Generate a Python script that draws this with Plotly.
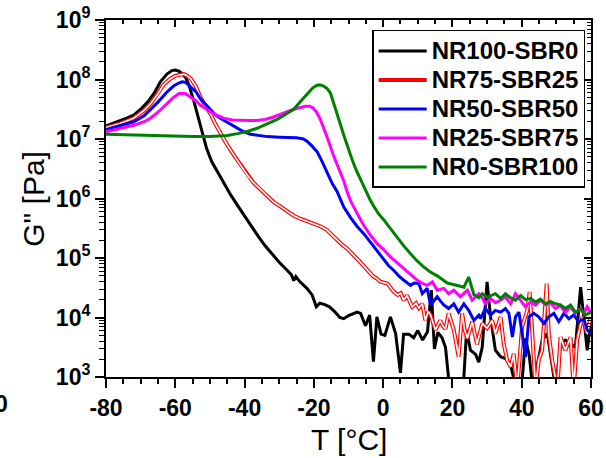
import plotly.graph_objects as go

# ---------------- data ----------------
series_names = ["NR100-SBR0", "NR75-SBR25", "NR50-SBR50", "NR25-SBR75", "NR0-SBR100"]
series_colors = ["#000000", "#ff0000", "#0000ff", "#ff00ff", "#008000"]

x_tickvals = [-80, -60, -40, -20, 0, 20, 40, 60]
x_ticktext = ["-80", "-60", "-40", "-20", "0", "20", "40", "60"]
y_tickvals = [1e3, 1e4, 1e5, 1e6, 1e7, 1e8, 1e9]
y_ticktext = ["10<sup>3</sup>", "10<sup>4</sup>", "10<sup>5</sup>", "10<sup>6</sup>",
              "10<sup>7</sup>", "10<sup>8</sup>", "10<sup>9</sup>"]

# temperatures (deg C) and log10(G'' / Pa)
t_nr100 = [-80, -77, -74, -72, -70, -68, -66, -64.3, -62.4, -61, -60, -59, -58, -57, -56, -54.7,
           -53.5, -52.5, -51, -49.5, -48, -46, -44, -42, -40, -38, -36, -34, -32, -30, -28, -26.5,
           -25.8, -25.2, -24, -22, -20.5, -19.3, -18.3, -17, -15.5, -14, -12.5, -11.4, -10, -8.5,
           -7.5, -6.5, -5.1, -3.9, -2.8, -1.8, -0.6, 0.5, 2.1, 3.6, 5.0, 5.9, 7.4, 8.8, 10.0, 11.4,
           12.8, 13.9, 14.8, 15.8, 17.0, 18.0, 19.2, 20.5, 22, 23.1, 24.1, 25.2, 26.7, 27.6, 28.6,
           30.0, 31.0, 32.4, 33.9, 35.3, 36.8, 38.0, 39.2, 40.2, 41.1, 42.2, 43.2, 44.5, 45.9, 47.4,
           48.8, 49.8, 51.2, 52.6, 54.1, 55.5, 57.0, 57.9, 58.9, 59.9]
lg_nr100 = [7.22, 7.28, 7.35, 7.40, 7.50, 7.62, 7.78, 7.96, 8.09, 8.15, 8.16, 8.14, 8.10, 8.03, 7.90,
            7.65, 7.38, 7.15, 6.85, 6.62, 6.46, 6.25, 6.06, 5.88, 5.70, 5.52, 5.36, 5.20, 5.06, 4.93,
            4.81, 4.72, 4.62, 4.69, 4.60, 4.49, 4.38, 4.18, 4.24, 4.22, 4.18, 4.10, 4.00, 3.98, 4.03,
            4.07, 4.09, 4.07, 3.86, 4.04, 3.26, 4.01, 3.72, 3.70, 4.01, 3.73, 3.07, 3.72, 3.72, 3.66,
            3.78, 3.62, 3.76, 4.46, 3.47, 3.75, 3.66, 3.50, 2.8, 2.6, 2.7, 2.8, 3.79, 3.45, 3.38,
            3.25, 3.50, 4.60, 4.01, 3.45, 3.34, 3.31, 3.20, 2.9, 2.7, 3.0, 3.65, 3.35, 2.8, 3.2,
            3.62, 3.73, 3.17, 2.8, 3.56, 3.62, 3.56, 3.50, 4.51, 4.01, 3.45, 3.90]

t_nr75 = [-80, -76, -72, -69, -67, -65, -63.4, -61.5, -60, -58.6, -57.5, -56.5, -55.5, -54, -52.8,
          -51.3, -49.9, -48.5, -47, -45, -43, -41, -39.3, -37.5, -35.4, -33.5, -31.6, -29.5, -27.7,
          -25.8, -23.9, -22, -20, -18, -16.2, -14.8, -13.3, -11.8, -10.4, -8.5, -6.6, -4.6, -3.0,
          -1.7, -0.8, 1.2, 2.2, 3.1, 4.2, 5.1, 5.9, 6.9, 7.8, 8.4, 9.5, 10.3, 11.3, 12.2, 13.0,
          13.7, 15.1, 16.5, 17.2, 18.0, 18.9, 20.4, 21.8, 22.8, 23.5, 24.3, 25.7, 27.1, 27.6, 28.6,
          30.0, 31.5, 32.4, 33.9, 34.8, 35.8, 36.8, 37.7, 38.7, 40.1, 41.6, 42.3, 43.0, 44.0, 44.9,
          45.9, 47.2, 47.8, 48.8, 50.3, 51.2, 52.6, 54.1, 55.0, 56.0, 57.5, 58.9, 59.9]
lg_nr75 = [7.19, 7.26, 7.35, 7.48, 7.60, 7.76, 7.91, 8.01, 8.06, 8.08, 8.09, 8.06, 8.01, 7.88, 7.71,
           7.55, 7.43, 7.26, 7.10, 6.90, 6.72, 6.55, 6.40, 6.27, 6.15, 6.04, 5.94, 5.86, 5.78, 5.71,
           5.66, 5.62, 5.58, 5.53, 5.47, 5.39, 5.30, 5.22, 5.16, 5.05, 4.93, 4.80, 4.70, 4.65, 4.60,
           4.57, 4.49, 4.43, 4.38, 4.41, 4.29, 4.37, 4.25, 4.18, 4.24, 4.16, 4.23, 3.95, 4.10, 4.04,
           3.79, 3.95, 3.86, 3.81, 4.07, 3.79, 3.34, 4.07, 3.80, 3.65, 3.93, 3.55, 3.67, 3.90, 3.82,
           3.95, 3.73, 4.01, 3.56, 3.28, 3.17, 3.39, 2.8, 3.84, 4.12, 4.43, 3.79, 2.8, 3.28, 3.45,
           4.57, 3.73, 3.28, 2.8, 3.67, 3.45, 3.67, 2.8, 3.62, 4.01, 3.73, 4.01]

t_nr50 = [-80, -76, -72, -69, -67.2, -65, -62.4, -60.5, -59, -58, -57, -55.6, -54, -52.8, -51.3,
          -49.9, -48.5, -47, -45, -43.1, -40.5, -38.3, -35.4, -33.5, -30, -27.7, -25, -23, -21.9,
          -20.5, -19, -17.6, -16.2, -14.7, -13.3, -11.4, -9.4, -7.5, -5.6, -3.7, -1.7, 0.2, 1.6,
          3.1, 4.5, 5.9, 7.9, 9.0, 10.3, 11.3, 12.7, 13.7, 15.6, 16.5, 17.5, 18.9, 20.4, 21.8, 23.3,
          24.7, 26.2, 27.6, 28.1, 29.5, 31.0, 32.4, 33.9, 35.3, 36.3, 37.3, 38.2, 39.2, 40.1, 41.1,
          42.1, 43.5, 44.9, 46.4, 47.8, 49.3, 50.7, 52.2, 53.6, 55.0, 56.5, 57.9, 58.9, 59.9]
lg_nr50 = [7.16, 7.22, 7.29, 7.39, 7.49, 7.62, 7.79, 7.89, 7.94, 7.96, 7.95, 7.88, 7.79, 7.68, 7.58,
           7.49, 7.41, 7.35, 7.28, 7.21, 7.13, 7.08, 7.06, 7.04, 7.03, 7.03, 7.02, 7.00, 6.96, 6.88,
           6.78, 6.62, 6.45, 6.25, 6.12, 5.86, 5.68, 5.53, 5.41, 5.27, 5.13, 4.99, 4.87, 4.79, 4.70,
           4.63, 4.54, 4.58, 4.57, 4.40, 4.49, 4.21, 4.35, 4.28, 4.21, 4.15, 4.23, 4.09, 4.23, 4.12,
           3.95, 4.04, 3.98, 4.15, 4.04, 4.12, 4.09, 4.15, 4.07, 3.67, 4.01, 4.09, 3.73, 3.34, 4.01,
           4.07, 4.01, 3.90, 4.01, 4.07, 3.93, 4.07, 3.98, 4.04, 3.93, 3.98, 3.79, 3.73]

t_nr25 = [-80, -76, -72, -69, -67.2, -65, -62.4, -60.5, -59, -58, -57, -55.6, -54, -52.8, -51.3,
          -49.9, -48, -46.1, -43.5, -41.2, -38.5, -36.4, -34, -31.6, -29.7, -27.7, -25.8, -24,
          -22.5, -21.2, -20.2, -19.2, -18.3, -17.4, -16.6, -15.5, -14.3, -12.8, -11.4, -10.2, -9.4,
          -8.5, -7.5, -6.6, -5.6, -3.5, -1.7, 0.0, 2.1, 4.0, 5.9, 7.5, 9.8, 11.2, 12.7, 14.2, 15.6,
          17.5, 18.9, 20.4, 22.3, 24.3, 25.7, 27.6, 28.6, 29.5, 31.0, 32.4, 33.9, 35.3, 36.8, 38.2,
          39.7, 41.1, 42.5, 44.0, 45.4, 46.9, 48.3, 49.7, 51.1, 52.6, 54.1, 55.5, 57.0, 57.9, 58.9,
          59.9]
lg_nr25 = [7.12, 7.17, 7.23, 7.29, 7.35, 7.45, 7.60, 7.70, 7.76, 7.77, 7.76, 7.71, 7.64, 7.57, 7.51,
           7.46, 7.40, 7.35, 7.32, 7.31, 7.31, 7.31, 7.33, 7.37, 7.42, 7.46, 7.50, 7.53, 7.55, 7.55,
           7.52, 7.45, 7.35, 7.22, 7.10, 6.92, 6.72, 6.50, 6.30, 6.08, 5.96, 5.86, 5.74, 5.65, 5.55,
           5.37, 5.24, 5.15, 5.02, 4.92, 4.82, 4.75, 4.63, 4.58, 4.54, 4.60, 4.46, 4.49, 4.40, 4.46,
           4.35, 4.46, 4.29, 4.40, 4.33, 4.23, 4.32, 4.25, 4.29, 4.35, 4.23, 4.40, 4.29, 4.18, 4.26,
           4.21, 4.29, 4.21, 4.25, 4.15, 4.20, 4.09, 4.18, 4.07, 4.15, 4.07, 4.18, 4.09]

t_nr0 = [-80, -75, -70, -65, -60, -55, -50, -45, -42, -39, -36.4, -33.5, -30.6, -28, -25.8, -24,
         -22.9, -21.5, -20.3, -19.2, -18.3, -17.2, -16.2, -15.2, -14.2, -13.3, -12.3, -11.4, -10.2,
         -9.0, -7.8, -6.6, -5.2, -3.7, -2.5, -1.3, 0.2, 2.0, 4.0, 6.0, 7.9, 9.8, 11.7, 13.5, 15.6,
         17.0, 18.5, 20.0, 21.4, 23.3, 24.7, 26.2, 27.6, 28.6, 30.0, 31.0, 32.4, 33.9, 35.3, 36.8,
         38.2, 39.7, 41.1, 42.5, 44.0, 45.4, 46.9, 48.3, 49.7, 51.2, 52.6, 54.1, 55.5, 57.0, 58.4,
         59.9]
lg_nr0 = [7.08, 7.07, 7.06, 7.05, 7.05, 7.04, 7.04, 7.06, 7.09, 7.13, 7.18, 7.25, 7.33, 7.42, 7.50,
          7.62, 7.69, 7.79, 7.86, 7.90, 7.91, 7.89, 7.85, 7.77, 7.60, 7.43, 7.24, 7.07, 6.85, 6.66,
          6.48, 6.33, 6.15, 5.97, 5.85, 5.74, 5.64, 5.50, 5.35, 5.20, 5.07, 4.95, 4.85, 4.77, 4.70,
          4.64, 4.58, 4.56, 4.54, 4.51, 4.68, 4.38, 4.33, 4.40, 4.34, 4.37, 4.40, 4.32, 4.40, 4.33,
          4.29, 4.37, 4.30, 4.32, 4.26, 4.31, 4.23, 4.27, 4.23, 4.21, 4.15, 4.21, 4.09, 4.14, 4.04,
          4.09]

series_t = [t_nr100, t_nr75, t_nr50, t_nr25, t_nr0]
series_lg = [lg_nr100, lg_nr75, lg_nr50, lg_nr25, lg_nr0]

FONT = "Liberation Sans, Arial, Helvetica, sans-serif"
LEGEND_TEXT_PX = 24

fig = go.Figure()
for name, color, t, lg in zip(series_names, series_colors, series_t, series_lg):
    g = [10 ** v for v in lg]
    label = f'<span style="font-size:{LEGEND_TEXT_PX}px">{name}</span>'
    if name == "NR75-SBR25":
        fig.add_trace(go.Scatter(x=t, y=g, mode="lines", name=label, legendgroup=name,
                                 line=dict(color=color, width=4.0)))
        fig.add_trace(go.Scatter(x=t, y=g, mode="lines", name=label, legendgroup=name,
                                 showlegend=False, hoverinfo="skip",
                                 line=dict(color="#fff4f4", width=1.7)))
    else:
        fig.add_trace(go.Scatter(x=t, y=g, mode="lines", name=label,
                                 line=dict(color=color, width=3)))

# helper trace so the mirrored top/right axes (inside ticks) are drawn
fig.add_trace(go.Scatter(x=[None], y=[None], xaxis="x2", yaxis="y2", showlegend=False,
                         hoverinfo="skip"))

tickfont = dict(family=FONT, size=23, color="black", weight="bold")
common = dict(showline=True, linewidth=2, linecolor="black", showgrid=False, zeroline=False,
              automargin=False, tickwidth=1.5, tickcolor="black")

fig.update_layout(
    template="none",
    width=606, height=458, autosize=False,
    margin=dict(l=106, r=15, t=20, b=81, pad=0),
    paper_bgcolor="white", plot_bgcolor="white",
    font=dict(family=FONT, color="black"),
    xaxis=dict(range=[-80, 60], tickvals=x_tickvals, ticktext=x_ticktext,
               ticks="outside", ticklen=9, tickfont=tickfont,
               minor=dict(ticks="outside", ticklen=5, tickwidth=1.5, tickcolor="black",
                          dtick=5, showgrid=False), **common),
    xaxis2=dict(range=[-80, 60], overlaying="x", side="top", anchor="y2",
                tickvals=x_tickvals, showticklabels=False,
                ticks="inside", ticklen=7,
                minor=dict(ticks="inside", ticklen=4, tickwidth=1.5, tickcolor="black",
                           dtick=5, showgrid=False), **common),
    yaxis=dict(type="log", range=[3, 9], tickvals=y_tickvals, ticktext=y_ticktext,
               ticks="outside", ticklen=9, tickfont=tickfont,
               minor=dict(ticks="outside", ticklen=5, tickwidth=1.2, tickcolor="black",
                          dtick="D1", showgrid=False), **common),
    yaxis2=dict(type="log", range=[3, 9], overlaying="y", side="right", anchor="x2",
                tickvals=y_tickvals, showticklabels=False,
                ticks="inside", ticklen=7,
                minor=dict(ticks="inside", ticklen=4, tickwidth=1.2, tickcolor="black",
                           dtick="D1", showgrid=False), **common),
    legend=dict(x=0.988, xanchor="right", y=0.972, yanchor="top",
                bgcolor="white", bordercolor="black", borderwidth=1.5,
                font=dict(family=FONT, size=20, color="black", weight="bold"),
                itemwidth=48, tracegroupgap=0),
    showlegend=True,
)

fig.add_annotation(text="T [°C]", xref="paper", yref="paper", x=0.5, y=-0.175,
                   xanchor="center", yanchor="middle", showarrow=False,
                   font=dict(family=FONT, size=30, color="black"))
fig.add_annotation(text='G" [Pa]', xref="paper", yref="paper", x=-0.15, y=0.5,
                   xanchor="center", yanchor="middle", textangle=-90, showarrow=False,
                   font=dict(family=FONT, size=30, color="black"))
# fragment of a neighbouring panel's tick label visible at the far left edge
fig.add_annotation(text="0", xref="paper", yref="paper", x=-0.197, y=-0.075,
                   xanchor="right", yanchor="middle", showarrow=False,
                   font=dict(family=FONT, size=23, color="black", weight="bold"))

# remove the browser's default page margin so the figure sits at the window's corner
fig.write_html("out.html", config={"displayModeBar": False},
               post_script="document.body.style.margin='0';")
